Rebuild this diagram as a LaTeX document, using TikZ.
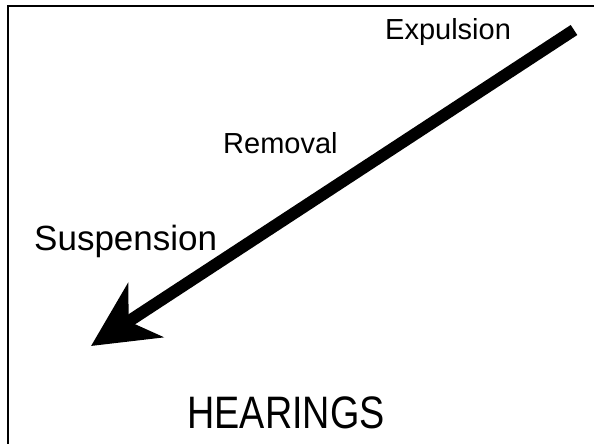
\documentclass[tikz,border=0pt]{standalone}
\usepackage{fontspec}
\setmainfont{Liberation Sans}
\usetikzlibrary{arrows.meta}

\tikzset{
  label text/.style={inner sep=0pt, anchor=base west},
  big arrow/.style={line width=12pt, -{Stealth[length=65pt 0 0, width=64pt 0 0, inset=20pt 0 0]}},
}

\begin{document}
\begin{tikzpicture}[x=1pt, y=-1pt]
\useasboundingbox (0,0) rectangle (594,444);

% Frame (only top and left edges show)
\draw[line width=2.5pt] (8,444) -- (8,6) -- (594,6);

% Main arrow
\coordinate (start) at (574,30);
\coordinate (tip) at (91,346);
\draw[big arrow] (start) -- (tip);

% Labels
\node[label text, font=\fontsize{29}{34}\selectfont] (expulsion) at (385,40) {Expulsion};
\node[label text, font=\fontsize{29}{34}\selectfont] (removal) at (223,153) {Removal};
\node[label text, font=\fontsize{35}{42}\selectfont] (suspension) at (34,250) {Suspension};
\node[inner sep=0pt, anchor=base, xscale=0.83, font=\fontsize{45.5}{52}\selectfont] (hearings) at (286,428) {HEARINGS};
\end{tikzpicture}
\end{document}
